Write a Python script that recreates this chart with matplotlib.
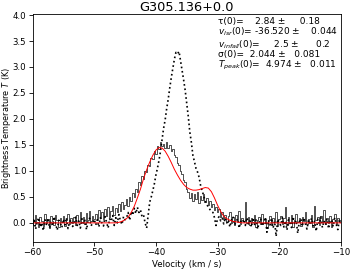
import numpy as np
import matplotlib
matplotlib.use("Agg")
import matplotlib.pyplot as plt

# velocity grid of the observed spectra (km/s)
vel = np.linspace(-60, -10, 201)

# solid (step) spectrum
spec_solid = [
    0.08, -0.05, 0.15, 0.02, -0.08, 0.12, 0.04, -0.06, 0.18, 0.00,
    0.07, -0.10, 0.13, 0.03, -0.04, 0.16, 0.05, -0.07, 0.10, 0.01,
    0.14, -0.06, 0.06, 0.17, -0.02, 0.09, 0.00, 0.12, -0.05, 0.15,
    0.04, 0.20, 0.02, 0.11, -0.03, 0.19, 0.06, 0.22, 0.03, 0.14,
    0.08,
    0.18, 0.05, 0.24, 0.10, 0.20, 0.07, 0.26, 0.14, 0.30, 0.12,
    0.22, 0.33, 0.15, 0.28, 0.20, 0.36, 0.22, 0.40, 0.27, 0.35,
    0.45, 0.32, 0.50, 0.42, 0.58, 0.50, 0.66, 0.60, 0.78, 0.72,
    0.90, 0.85, 1.00, 0.98, 1.12, 1.10, 1.25, 1.22, 1.38, 1.33,
    1.48, 1.42, 1.55, 1.47, 1.52, 1.44, 1.56, 1.45, 1.50, 1.38,
    1.42, 1.30, 1.27, 1.15, 1.12, 1.00, 0.95, 0.82, 0.78, 0.66,
    0.60, 0.48, 0.58, 0.42, 0.55, 0.46, 0.60, 0.38, 0.52, 0.44,
    0.56, 0.40, 0.48, 0.34, 0.42, 0.30, 0.36, 0.24, 0.30, 0.20,
    0.26, 0.12, 0.20, 0.08, 0.16, 0.02, 0.14, 0.20, 0.00, 0.12,
    -0.04, 0.15, 0.05, 0.22, -0.02, 0.10, 0.04, 0.40, 0.00, 0.12,
    -0.05, 0.10, 0.02, 0.16, -0.08, 0.05, 0.12, -0.03, 0.18, 0.00,
    0.08, -0.10, 0.06, 0.14, -0.04, 0.10, 0.02, 0.20, -0.06, 0.07,
    0.13, -0.02, 0.09, 0.30, -0.05, 0.11, 0.00, 0.15, -0.08, 0.06,
    0.17, 0.01, 0.10, -0.06, 0.12, 0.04, 0.21, -0.03, 0.08, 0.00,
    0.16, -0.07, 0.33, 0.05, 0.11, -0.04, 0.14, 0.02, 0.24, -0.02,
    0.09, 0.00, 0.13, -0.08, 0.07, 0.18, -0.03, 0.10, 0.01, 0.06,
]

# dotted spectrum
spec_dotted = [
    -0.05, 0.08, -0.12, 0.02, 0.10, -0.08, 0.00, -0.15, 0.06, -0.03,
    0.09, -0.10, 0.03, -0.06, 0.12, -0.02, -0.14, 0.05, 0.00, -0.09,
    0.07, -0.04, 0.10, -0.11, 0.02, 0.06, -0.07, 0.00, 0.11, -0.05,
    0.04, -0.10, 0.08, -0.02, 0.05, -0.13, 0.03, 0.09, -0.06, 0.01,
    0.07,
    -0.04, 0.06, -0.08, 0.10, 0.00, -0.06, 0.12, 0.02, -0.10, 0.08,
    0.03, 0.14, -0.05, 0.10, 0.00, 0.16, 0.04, -0.03, 0.12, 0.06,
    0.10, 0.20, 0.05, 0.22, 0.15, 0.28, 0.18, 0.30, 0.20, 0.25,
    0.12, 0.15, 0.00, -0.10, 0.15, 0.40, 0.50, 0.62, 0.75, 0.92,
    1.05, 1.20, 1.38, 1.60, 1.82, 1.98, 2.20, 2.38, 2.60, 2.80,
    2.98, 3.15, 3.28, 3.25, 3.30, 3.12, 2.95, 2.75, 2.55, 2.30,
    2.05, 1.75, 1.55, 1.30, 1.18, 1.05, 0.98, 0.88, 0.72, 0.62,
    0.52, 0.42, 0.36, 0.30, 0.26, 0.22, 0.20, 0.10, -0.05, 0.08,
    0.12, 0.04, 0.09, -0.02, 0.10, 0.00, 0.06, -0.08, 0.05, 0.12,
    -0.04, 0.02, 0.08, -0.10, 0.03, 0.00, 0.07, -0.05, 0.10, -0.02,
    0.04, -0.08, 0.10, -0.03, 0.06, -0.12, 0.02, 0.08, -0.06, 0.00,
    0.11, -0.18, 0.05, -0.04, 0.09, -0.10, 0.03, -0.26, 0.07, 0.01,
    -0.05, 0.10, -0.08, 0.04, -0.14, 0.06, 0.00, -0.09, 0.12, -0.03,
    0.05, -0.20, 0.02, 0.08, -0.07, 0.10, -0.02, -0.12, 0.06, 0.00,
    0.09, -0.06, 0.03, -0.16, 0.07, -0.02, 0.11, -0.09, 0.04, -0.04,
    0.08, -0.11, 0.02, 0.06, -0.07, 0.10, -0.03, -0.13, 0.05, 0.00,
]

# model fit (red), sampled every 0.5 km/s
vel_model = np.linspace(-60, -10, 101)
model = (
    [0.0] * 27 +
    [0.00, 0.01, 0.03, 0.06, 0.11, 0.20, 0.32, 0.48, 0.65, 0.85,
     1.02, 1.17, 1.30, 1.40, 1.45, 1.44, 1.38, 1.28, 1.16, 1.03,
     0.92, 0.82, 0.74, 0.68, 0.65, 0.63, 0.63, 0.64, 0.66, 0.68,
     0.67, 0.60, 0.48, 0.34, 0.22, 0.13, 0.08, 0.05, 0.03, 0.02,
     0.01] +
    [0.0] * 33
)

title = "G305.136+0.0"
fit_text = (
    "τ(0)=    2.84 ±     0.18\n"
    "$v_{lsr}$(0)= -36.520 ±    0.044\n"
    "$v_{infall}$(0)=     2.5 ±      0.2\n"
    "σ(0)=  2.044 ±   0.081\n"
    "$T_{peak}$(0)=  4.974 ±   0.011"
)

fig = plt.figure(figsize=(3.5, 2.69), dpi=100)
ax = fig.add_axes([0.093, 0.100, 0.881, 0.848])

ax.plot(vel, spec_solid, color="#333333", lw=0.6, drawstyle="steps-mid")
ax.plot(vel, spec_dotted, color="black", lw=1.2, ls=":")
ax.plot(vel_model, model, color="red", lw=0.7)

ax.set_xlim(-60, -10)
ax.set_ylim(-0.37, 4.02)
ax.set_xticks([-60, -50, -40, -30, -20, -10])
ax.set_yticks([0.0, 0.5, 1.0, 1.5, 2.0, 2.5, 3.0, 3.5, 4.0])
ax.tick_params(labelsize=6.2, length=2.6, width=0.6, pad=2.0)
for s in ax.spines.values():
    s.set_linewidth(0.6)
ax.set_xlabel("Velocity (km / s)", fontsize=6.2, labelpad=1.5)
ax.set_ylabel("Brightness Temperature $T$ (K)", fontsize=5.9)
ax.yaxis.set_label_coords(-0.064, 0.5)
ax.set_title(title, fontsize=9.3, pad=2)
ax.text(0.60, 0.985, fit_text, transform=ax.transAxes, ha="left", va="top",
        fontsize=6.5, linespacing=0.95)

fig.savefig("out.png", dpi=100)
